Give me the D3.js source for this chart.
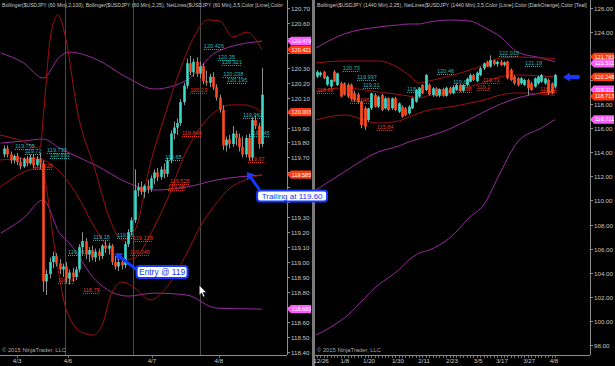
<!DOCTYPE html>
<html><head><meta charset="utf-8">
<script src="https://cdn.jsdelivr.net/npm/d3@7"></script>
<style>body{margin:0;background:#000;overflow:hidden}svg{display:block}text{font-family:"Liberation Sans",Arial,sans-serif}</style>
</head><body><svg id="c" width="615" height="366"></svg>
<script>
const leftTitle = "Bollinger($USDJPY (60 Min),2,100), Bollinger($USDJPY (60 Min),2,25), NetLines($USDJPY (60 Min),3,5,Color [Lime],Color";
const rightTitle = "Bollinger($USDJPY (1440 Min),2,25), NetLines($USDJPY (1440 Min),3,5,Color [Lime],Color [DarkOrange],Color [Teal]";
const copyright = "© 2015 NinjaTrader, LLC";

// 60-min candles [open, high, low, close]
const leftCandles = [
[119.72,119.78,119.70,119.76],[119.76,119.78,119.70,119.72],[119.72,119.74,119.66,119.68],[119.68,119.72,119.66,119.71],
[119.71,119.73,119.65,119.67],[119.67,119.70,119.62,119.64],[119.64,119.70,119.63,119.69],[119.69,119.71,119.64,119.66],
[119.66,119.72,119.65,119.70],[119.70,119.72,119.63,119.65],[119.65,119.71,119.64,119.69],[119.69,119.73,119.62,119.66],
[119.66,119.68,118.80,118.87],
[118.87,118.95,118.78,118.92],[118.92,119.03,118.89,119.00],[119.00,119.07,118.96,119.04],[119.04,119.06,118.97,118.99],
[118.99,119.02,118.92,118.95],[118.95,118.99,118.90,118.97],[118.97,119.00,118.86,118.89],[118.89,118.95,118.85,118.93],
[118.93,118.96,118.87,118.90],[118.90,118.97,118.88,118.95],[118.95,119.12,118.93,119.10],[119.10,119.20,119.05,119.14],
[119.14,119.16,119.02,119.05],[119.05,119.10,119.00,119.08],[119.08,119.11,119.01,119.03],[119.03,119.09,119.00,119.07],
[119.07,119.09,119.01,119.04],[119.04,119.12,119.02,119.11],[119.11,119.14,119.06,119.09],[119.09,119.13,119.05,119.11],
[119.11,119.12,118.98,119.00],[119.00,119.04,118.95,118.97],[118.97,119.02,118.94,119.00],[119.00,119.03,118.95,118.98],
[118.98,119.14,118.96,119.12],[119.12,119.22,119.10,119.20],[119.20,119.30,119.18,119.28],[119.28,119.62,119.26,119.48],
[119.48,119.53,119.44,119.50],[119.50,119.54,119.45,119.47],[119.47,119.52,119.43,119.51],[119.51,119.55,119.46,119.49],
[119.49,119.58,119.47,119.56],[119.56,119.62,119.52,119.60],[119.60,119.63,119.54,119.57],[119.57,119.64,119.55,119.62],
[119.62,119.66,119.56,119.59],[119.59,119.70,119.57,119.68],[119.68,119.88,119.66,119.86],[119.86,119.94,119.82,119.90],
[119.90,119.96,119.85,119.93],[119.93,120.09,119.91,120.07],[120.07,120.20,120.05,120.18],[120.18,120.36,120.16,120.33],
[120.33,120.38,120.25,120.27],[120.27,120.36,120.24,120.34],[120.34,120.37,120.24,120.26],[120.26,120.34,120.23,120.31],
[120.31,120.33,120.19,120.21],[120.21,120.28,120.18,120.20],[120.20,120.26,120.17,120.24],[120.24,120.27,120.15,120.17],
[120.17,120.19,120.08,120.10],[120.10,120.12,120.00,120.02],[120.02,120.05,119.75,119.78],[119.78,119.84,119.74,119.82],
[119.82,119.85,119.76,119.79],[119.79,119.91,119.77,119.86],[119.86,119.88,119.78,119.83],[119.83,119.86,119.74,119.77],
[119.77,119.84,119.70,119.72],[119.72,119.85,119.70,119.83],[119.83,119.86,119.68,119.70],[119.70,119.97,119.68,119.95],
[119.95,119.98,119.89,119.91],[119.91,119.93,119.76,119.79],[119.79,120.30,119.77,120.12]
];

// daily candles [open, high, low, close]
const rightCandles = [
[120.27,120.80,120.15,120.68],[120.40,120.70,120.25,120.60],[120.68,120.75,120.05,120.13],[119.60,120.35,119.50,120.27],
[119.45,120.05,119.35,119.99],[120.68,120.82,119.80,119.85],[119.58,120.60,119.50,120.54],[119.71,119.85,118.55,118.62],
[119.70,119.80,118.70,118.78],[119.60,119.75,118.50,118.61],[119.60,119.70,118.30,118.40],[118.90,119.10,118.20,118.33],
[118.80,118.95,118.05,118.15],[118.19,118.30,115.98,116.26],[117.64,117.80,115.85,116.12],[116.67,117.70,116.50,117.64],
[117.64,118.95,117.50,118.88],[118.74,118.90,117.70,117.78],[117.78,118.70,117.65,118.61],[118.74,118.85,117.40,117.50],
[117.64,118.60,117.55,118.47],[118.47,118.55,117.40,117.50],[117.64,118.55,117.50,118.47],[118.47,118.60,117.40,117.50],
[117.36,118.15,117.25,118.05],[117.78,117.90,116.85,116.95],[117.64,117.75,117.00,117.09],[117.22,117.90,117.10,117.78],
[117.64,118.55,117.55,118.47],[118.19,119.25,118.10,119.16],[118.61,119.40,118.50,119.30],[119.58,119.65,118.80,118.88],
[119.16,120.50,119.05,120.41],[119.60,119.70,118.70,118.80],[118.75,119.40,118.60,119.30],[119.30,119.40,118.60,118.70],
[118.70,119.30,118.55,119.25],[119.25,119.35,118.60,118.70],[118.70,119.45,118.60,119.35],[119.35,119.45,118.80,118.90],
[118.90,119.50,118.80,119.40],[119.20,119.70,119.10,119.55],[119.55,119.65,119.00,119.10],[119.10,119.65,119.00,119.58],
[119.58,120.20,119.45,120.10],[119.85,120.55,119.80,120.40],[120.40,120.50,119.90,120.00],[119.90,120.70,119.80,120.60],
[120.40,121.10,120.30,120.96],[120.95,121.45,120.80,121.37],[121.50,121.60,121.05,121.10],[121.10,122.03,121.00,121.65],
[121.60,121.70,121.20,121.30],[121.30,121.60,121.10,121.50],[121.50,121.65,121.15,121.25],[121.25,121.55,121.10,121.45],
[121.51,121.60,120.05,120.13],[120.82,120.95,119.90,119.99],[120.27,120.40,119.60,119.71],[120.13,120.25,119.45,119.58],
[119.71,120.25,119.60,120.13],[119.58,120.10,119.50,119.99],[119.99,120.10,118.72,119.30],[119.71,119.85,119.10,119.16],
[119.44,120.20,119.35,120.13],[119.71,120.35,119.60,120.27],[119.85,120.50,119.75,120.41],[119.71,120.20,119.60,120.13],
[119.99,120.10,118.75,118.88],[119.71,119.80,118.80,118.88],[119.44,120.50,119.30,120.41]
];

// Bollinger lines, sampled [bar index] -> value
const bb100L_idx = [-1, 6, 12, 17, 20, 28, 38, 46, 56, 65, 79];
const bb100L_upper = [120.399,120.332,120.231,120.372,120.405,120.359,120.231,120.158,120.218,120.405,120.479];
const bb100L_mid = [119.796,119.810,119.823,119.763,119.729,119.649,119.529,119.482,119.502,119.549,119.582];
const bb100L_lower = [119.194,119.294,119.415,119.194,119.127,118.879,118.772,118.792,118.779,118.692,118.685];

const bb25L_upper_idx = [-1.2,4.9,11,12.2,14.1,16.5,19,22.4,27.9,32.5,36.1,40.1,44.7,49.3,53.9,58.5,62.2,66.1,70.1,74.4,79];
const bb25L_upper = [119.85,119.816,119.763,120.017,120.486,120.653,120.486,120.017,119.616,119.281,119.147,119.214,119.649,119.984,120.285,120.519,120.62,120.613,120.506,120.539,120.421];
const bb25L_mid_idx = [-1.2,11,12.2,16.5,22.4,27.3,32.5,36.1,40.1,44.7,49.9,56,60,64.6,69.2,73.8,79];
const bb25L_mid = [119.683,119.696,119.683,119.616,119.448,119.248,119.080,119.013,119.027,119.181,119.415,119.750,119.897,120.004,120.051,120.051,120.003];
const bb25L_lower_idx = [-1.2,11,12.2,15.6,19.3,24.2,27.3,30.3,32.5,36.1,40.1,44.7,49.9,56,60,64.6,69.2,73.8,79];
const bb25L_lower = [119.502,119.629,119.582,119.080,118.665,118.525,118.511,118.592,118.766,118.866,118.826,118.746,118.833,119.06,119.234,119.381,119.495,119.549,119.585];

const bbR_idx = [-0.3, 8, 18, 24, 27, 30, 33, 39, 45, 49, 54, 59, 66, 70];
const bb25R_upper = [121.40,121.57,121.57,120.99,120.41,119.74,119.91,120.32,120.82,121.24,121.82,121.90,121.82,121.783];
const bb25R_mid = [119.04,119.33,119.00,118.79,118.66,118.50,118.71,119.04,119.45,119.78,120.28,120.41,120.32,120.248];
const bb25R_lower = [116.67,117.09,116.42,116.59,116.92,117.25,117.50,117.75,118.08,118.33,118.75,118.92,118.83,118.713];
const bbLongR_upper = [122.65,123.81,124.39,124.56,124.64,124.64,124.80,124.97,124.89,124.39,123.56,122.32,121.82,121.511];
const bbLongR_mid = [110.86,112.36,114.02,114.51,114.85,115.10,115.34,115.93,116.75,117.33,118.00,118.50,118.92,119.111];
const bbLongR_lower = [98.82,100.23,102.97,104.22,105.05,105.63,105.88,106.88,108.62,109.62,112.36,114.85,116.01,116.711];

// NetLines labels [value, start bar index, colour key]
const netLeft = [
[120.426,61.2,"t"],[120.35,65.5,"t"],[120.321,66.7,"t"],[120.238,67.1,"t"],[120.195,68.3,"t"],[120.13,57,"r"],
[119.962,73.2,"t"],[119.846,54.5,"r"],[119.845,75.3,"t"],[119.68,49.3,"t"],[119.67,74.7,"r"],[119.525,50.8,"r"],
[119.48,50.2,"r"],[119.755,3.4,"t"],[119.72,6.4,"t"],[119.733,13.2,"t"],[119.693,14.1,"t"],[119.625,8.9,"r"],
[119.15,27.3,"t"],[119.138,39.5,"r"],[119.045,38.6,"r"],[119.05,19.6,"t"],[118.86,16.5,"r"],[118.79,24.2,"r"],[119.16,34.6,"t"]
];
const netRight = [
[120.73,7.6,"t"],[119.997,11.8,"t"],[119.31,13.5,"t"],[118.88,0,"r"],[118.045,9.7,"r"],[115.84,17.6,"r"],
[118.96,26.5,"t"],[120.46,35.3,"t"],[119.61,40,"t"],[118.72,34.1,"r"],[119.2,47,"r"],[118.98,40.6,"r"],
[119.73,48.8,"r"],[122.015,53.5,"t"],[121.19,61.2,"t"],[119.02,65.6,"r"]
];

// price tags on axes [value, colour key]
const tagsLeft = [[120.479,"m"],[120.421,"r"],[120.003,"r"],[119.585,"r"],[118.685,"m"]];
const tagsRight = [[121.783,"r"],[121.511,"m"],[120.248,"r"],[119.111,"m"],[118.713,"r"],[116.711,"m"]];

const leftTicks = [118.4,118.5,118.6,118.7,118.8,118.9,119.0,119.1,119.2,119.3,119.4,119.5,119.6,119.7,119.8,119.9,120.0,120.1,120.2,120.3,120.4,120.5,120.6,120.7];
const rightTicks = [98,100,102,104,106,108,110,112,114,116,118,120,122,124,126];
const leftDates = ["4/3","4/6","4/7","4/8"];
const leftDateIdx = [4, 19.6, 45.3, 65.8];
const leftGridIdx = [18.7, 39.5, 60];
const rightDates = ["12/26","1/8","1/20","1/30","2/11","2/23","3/5","3/17","3/27","4/8"];
const rightDateIdx = [1.2, 8.2, 15.3, 23.8, 31.5, 39.7, 47.4, 54.4, 62.4, 69.7];

// annotations: [bar index, price]
const entryNote = {text:"Entry @ 119", box:[40.6,118.933], tip:[34.0,119.06], tail:[40.9,118.945], w:51, h:12, fs:8.4};
const trailNote = {text:"Trailing at 119.60", box:[77.5,119.442], tip:[74.4,119.602], tail:[78.1,119.488], w:70, h:11, fs:8};

const col = {t:"#2ab5b0", r:"#e8381a", m:"#ff5cff", rt:"#ff3a12", up:"#3dd8c8", dn:"#ff4a20",
  purple:"#9a2a9e", dred:"#a01010", axis:"#8c8c8c", text:"#c8c8c8", blue:"#1638ff"};

const svg = d3.select("#c");
svg.append("rect").attr("width",615).attr("height",366).attr("fill","#000");

const L = {x0:0, x1:287, y0:0, y1:355};
const R = {x0:315, x1:590, y0:0, y1:355};
const xL = d3.scaleLinear().domain([0, leftCandles.length-1]).range([4, 262]);
const yL = d3.scaleLinear().domain([118.4, 120.7]).range([351.7, 8]);
const xR = d3.scaleLinear().domain([0, rightCandles.length-1]).range([317, 555]);
const yR = d3.scaleLinear().domain([98, 126]).range([345, 7.6]);

const defs = svg.append("defs");
defs.append("clipPath").attr("id","cl").append("rect").attr("x",L.x0).attr("y",L.y0).attr("width",L.x1-L.x0).attr("height",L.y1-L.y0);
defs.append("clipPath").attr("id","cr").append("rect").attr("x",R.x0).attr("y",R.y0).attr("width",R.x1-R.x0).attr("height",R.y1-R.y0);

svg.append("rect").attr("x",312).attr("y",0).attr("width",3).attr("height",366).attr("fill","#7a7a7a");

function fitText(sel, target){
  const base = 6;
  sel.attr("font-size", base);
  const w = sel.node().getComputedTextLength();
  sel.attr("font-size", (base*target/w).toFixed(3));
}

function panel(P, x, y, clip, ticks, tags, fmt, dates, dateIdx, title, allTicks){
  const g = svg.append("g");
  const pg = g.append("g").attr("clip-path",`url(#${clip})`);
  g.append("line").attr("x1",P.x1+0.5).attr("x2",P.x1+0.5).attr("y1",0).attr("y2",P.y1).attr("stroke",col.axis);
  g.append("line").attr("x1",P.x0).attr("x2",P.x1).attr("y1",P.y1+0.5).attr("y2",P.y1+0.5).attr("stroke",col.axis);
  ticks.forEach(v=>{
    const yy = Math.round(y(v))+0.5;
    g.append("line").attr("x1",P.x1).attr("x2",P.x1+3).attr("y1",yy).attr("y2",yy).attr("stroke",col.axis);
    const hidden = tags.some(t=>Math.abs(y(t[0])-yy) < 6.5);
    if(!hidden) g.append("text").attr("x",P.x1+4).attr("y",yy+2).attr("font-size",6.2).attr("fill",col.text).text(fmt(v));
  });
  dates.forEach((d,i)=>{
    const xx = x(dateIdx[i]);
    g.append("text").attr("x",xx).attr("y",363).attr("text-anchor","middle").attr("font-size",6.2).attr("fill",col.text).text(d);
  });
  allTicks.forEach(t=>{
    const xx = Math.round(x(t))+0.5;
    g.append("line").attr("x1",xx).attr("x2",xx).attr("y1",P.y1).attr("y2",P.y1+3).attr("stroke",col.axis).attr("stroke-width",0.8);
  });
  const tt = g.append("text").attr("x",P.x0+2).attr("y",6.5).attr("fill",col.text).text(title);
  fitText(tt, P.x1-P.x0-5);
  g.append("text").attr("x",P.x0+2).attr("y",352).attr("font-size",5.8).attr("fill","#aaa").text(copyright);
  return pg;
}

const pgL = panel(L, xL, yL, "cl", leftTicks.filter(v=>!(v>119.35&&v<119.55)), tagsLeft, d3.format(".2f"), leftDates, leftDateIdx, leftTitle, leftDateIdx);
const pgR = panel(R, xR, yR, "cr", rightTicks, tagsRight, d3.format(".2f"), rightDates, rightDateIdx, rightTitle, d3.range(0, rightCandles.length, 1));
[119.4,119.5].forEach(v=>{
  const yy = Math.round(yL(v))+0.5;
  svg.append("line").attr("x1",L.x1).attr("x2",L.x1+3).attr("y1",yy).attr("y2",yy).attr("stroke",col.axis);
});

leftGridIdx.forEach(t=>{
  const xx = Math.round(xL(t))+0.5;
  pgL.append("line").attr("x1",xx).attr("x2",xx).attr("y1",0).attr("y2",L.y1).attr("stroke","#4a4a4a").attr("stroke-width",1);
});

function drawLine(g, x, y, idx, vals, color){
  const pts = idx.map((d,i)=>[x(d), y(vals[i])]);
  g.append("path").attr("d", d3.line().curve(d3.curveMonotoneX)(pts)).attr("fill","none").attr("stroke",color).attr("stroke-width",1);
}
drawLine(pgL, xL, yL, bb100L_idx, bb100L_upper, col.purple);
drawLine(pgL, xL, yL, bb100L_idx, bb100L_mid, col.purple);
drawLine(pgL, xL, yL, bb100L_idx, bb100L_lower, col.purple);
drawLine(pgL, xL, yL, bb25L_upper_idx, bb25L_upper, col.dred);
drawLine(pgL, xL, yL, bb25L_mid_idx, bb25L_mid, col.dred);
drawLine(pgL, xL, yL, bb25L_lower_idx, bb25L_lower, col.dred);

drawLine(pgR, xR, yR, bbR_idx, bbLongR_upper, col.purple);
drawLine(pgR, xR, yR, bbR_idx, bbLongR_mid, col.purple);
drawLine(pgR, xR, yR, bbR_idx, bbLongR_lower, col.purple);
drawLine(pgR, xR, yR, bbR_idx, bb25R_upper, col.dred);
drawLine(pgR, xR, yR, bbR_idx, bb25R_mid, col.dred);
drawLine(pgR, xR, yR, bbR_idx, bb25R_lower, col.dred);

function drawNet(g, x, y, list){
  list.forEach(([v, i, c])=>{
    const txt = String(v);
    const w = txt.length*2.75;
    const xx = x(i), yy = Math.round(y(v))+0.5;
    g.append("line").attr("x1",xx).attr("x2",xx+w).attr("y1",yy).attr("y2",yy)
      .attr("stroke",col[c]).attr("stroke-width",1).attr("stroke-dasharray","1,1");
    g.append("text").attr("x",xx).attr("y",yy-1.5).attr("font-size",5.6).attr("fill",col[c]).text(txt);
  });
}

function drawCandles(g, x, y, data, bw){
  const c = g.append("g");
  c.selectAll("line").data(data).join("line")
    .attr("x1",(d,i)=>Math.round(x(i))+0.5).attr("x2",(d,i)=>Math.round(x(i))+0.5)
    .attr("y1",d=>y(d[1])).attr("y2",d=>y(d[2])).attr("stroke","#a0a0a0").attr("stroke-width",0.9);
  c.selectAll("rect").data(data).join("rect")
    .attr("x",(d,i)=>Math.round(x(i))+0.5-bw/2).attr("width",bw)
    .attr("y",d=>y(Math.max(d[0],d[3])))
    .attr("height",d=>Math.max(1, Math.abs(y(d[0])-y(d[3]))))
    .attr("fill",d=>d[3]>=d[0]?col.up:col.dn);
}
drawNet(pgL, xL, yL, netLeft);
drawNet(pgR, xR, yR, netRight);
drawCandles(pgL, xL, yL, leftCandles, 2.6);
drawCandles(pgR, xR, yR, rightCandles, 2.7);

function drawTags(list, y, x0){
  const pos = list.map(([v,c])=>({v, c, y:y(v)})).sort((a,b)=>a.y-b.y);
  for(let i=1;i<pos.length;i++){
    const gap = pos[i].y - pos[i-1].y;
    if(gap < 6.4){ const d = (6.4-gap)/2; pos[i-1].y -= d; pos[i].y += d; }
  }
  pos.forEach(p=>{
    const yy = p.y;
    const fill = p.c==="m"?col.m:col.rt;
    svg.append("path").attr("d",`M${x0},${yy} L${x0+4},${yy-4.2} L${x0+24},${yy-4.2} L${x0+24},${yy+4.2} L${x0+4},${yy+4.2} Z`).attr("fill",fill);
    svg.append("text").attr("x",x0+14.5).attr("y",yy+1.9).attr("text-anchor","middle").attr("font-size",5.5).attr("fill","#fff").text(p.v.toFixed(3));
  });
}
drawTags(tagsLeft, yL, L.x1);
drawTags(tagsRight, yR, R.x1);

function arrow(x1,y1,x2,y2){
  const ang = Math.atan2(y2-y1, x2-x1);
  const hl = 6.5, hw = 4.8;
  const bx = x2 - hl*Math.cos(ang), by = y2 - hl*Math.sin(ang);
  svg.append("line").attr("x1",x1).attr("y1",y1).attr("x2",bx).attr("y2",by).attr("stroke",col.blue).attr("stroke-width",3).attr("stroke-linecap","round");
  const px = -Math.sin(ang)*hw, py = Math.cos(ang)*hw;
  svg.append("path").attr("d",`M${x2},${y2} L${bx+px},${by+py} L${bx-px},${by-py} Z`).attr("fill",col.blue);
}
function note(n, x, y){
  arrow(x(n.tail[0]), y(n.tail[1]), x(n.tip[0]), y(n.tip[1]));
  const bx = x(n.box[0]), by = y(n.box[1]);
  svg.append("rect").attr("x",bx).attr("y",by-n.h/2).attr("width",n.w).attr("height",n.h).attr("rx",3)
    .attr("fill","#fff").attr("stroke",col.blue).attr("stroke-width",2);
  svg.append("text").attr("x",bx+n.w/2).attr("y",by+n.fs*0.36).attr("text-anchor","middle").attr("font-size",n.fs).attr("fill",col.blue).text(n.text);
}
note(entryNote, xL, yL);
note(trailNote, xL, yL);

(function(){
  const yy = yR(120.248), x2 = 563;
  svg.append("path").attr("d",`M${x2},${yy} L${x2+7},${yy-4.5} L${x2+7},${yy-2} L${x2+16},${yy-2} Q${x2+18},${yy} ${x2+16},${yy+2} L${x2+7},${yy+2} L${x2+7},${yy+4.5} Z`).attr("fill",col.blue);
})();

(function(){
  const mx = xL(59.8), my = yL(118.845);
  svg.append("path").attr("d",`M${mx},${my} l0,10 l2.3,-2.2 l1.8,4 l1.5,-0.7 l-1.8,-3.8 l3.2,0 Z`).attr("fill","#fff").attr("stroke","#000").attr("stroke-width",0.5);
})();
</script></body></html>
